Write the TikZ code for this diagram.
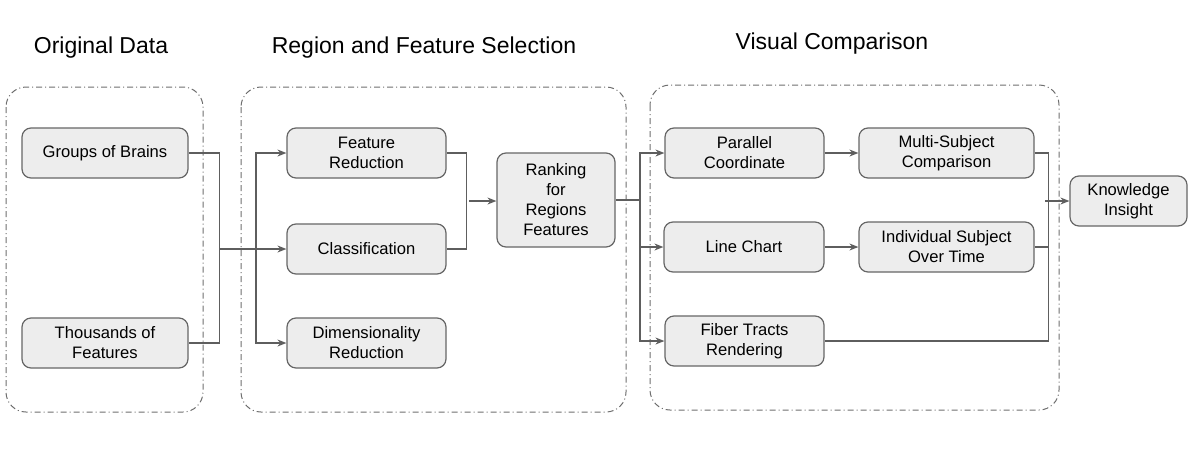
\documentclass[tikz,border=0pt]{standalone}
\usepackage{fontspec}
\setmainfont{Liberation Sans}
\usetikzlibrary{arrows.meta}
\definecolor{boxfill}{HTML}{EDEDED}
\definecolor{boxline}{HTML}{666666}
\definecolor{connc}{HTML}{5E5E5E}
\definecolor{grpc}{HTML}{6E6E6E}
\begin{document}
\begin{tikzpicture}[x=1pt,y=-1pt,
  box/.style={draw=boxline, fill=boxfill, rounded corners=9pt, line width=1.2pt,
    inner sep=0pt, align=center, font=\fontsize{16.6}{20}\selectfont},
  sz/.style 2 args={minimum width=#1pt, minimum height=#2pt},
  grp/.style={draw=grpc, line width=1pt, rounded corners=20pt,
    dash pattern=on 6pt off 3pt on 1pt off 3pt},
  ttl/.style={inner sep=0pt, font=\fontsize{23}{27}\selectfont},
  conn/.style={draw=connc, line width=1.2pt},
  arr/.style={conn, -{Stealth[length=9pt,width=7pt]}}]
\useasboundingbox (0,0) rectangle (1188,469);
% groups
\draw[grp] (6,87) rectangle (203,412);
\draw[grp] (241,87) rectangle (626,412);
\draw[grp] (650,85) rectangle (1059,410);
% titles
\node[ttl] (t1) at (101,47.5) {Original Data};
\node[ttl] (t2) at (424,47.5) {Region and Feature Selection};
\node[ttl] (t3) at (832,43.5) {Visual Comparison};
% boxes
\node[box, sz={166}{50}] (gob) at (105,153) {Groups of Brains};
\node[box, sz={166}{50}] (tof) at (105,343) {Thousands of\\Features};
\node[box, sz={159}{50}] (fr) at (366.5,153) {Feature\\Reduction};
\node[box, sz={159}{50}] (cls) at (366.5,249) {Classification};
\node[box, sz={159}{50}] (dr) at (366.5,343) {Dimensionality\\Reduction};
\node[box, sz={118}{94}] (rank) at (556,200) {Ranking\\for\\Regions\\Features};
\node[box, sz={159}{50}] (pc) at (744.5,153) {Parallel\\Coordinate};
\node[box, sz={160}{50}] (lc) at (744,247) {Line Chart};
\node[box, sz={159}{50}] (ft) at (744.5,341) {Fiber Tracts\\Rendering};
\node[box, sz={175}{50}] (ms) at (946.5,153) {Multi-Subject\\Comparison};
\node[box, sz={175}{50}] (ind) at (946.5,247) {Individual Subject\\Over Time};
\node[box, sz={117}{50}] (ki) at (1128.5,201) {Knowledge\\Insight};
% connectors: original data -> selection
\draw[conn] (gob.east) -- ++(31,0) |- (tof.east);
\coordinate (m1) at (219,249);
\coordinate (b1) at (256,249);
\draw[arr] (m1) -- (cls.west);
\draw[arr] (b1) |- (fr.west);
\draw[arr] (b1) |- (dr.west);
% selection -> ranking
\draw[conn] (fr.east) -- ++(20,0) |- (cls.east);
\coordinate (m2) at (469,201);
\draw[arr] (m2) -- (rank.west |- m2);
% ranking -> visual
\coordinate (b2) at (640,200);
\draw[conn, line width=1.8pt] (rank.east |- b2) -- (b2);
\draw[arr] (b2) |- (pc.west);
\draw[arr] (b2) |- (lc.west);
\draw[arr] (b2) |- (ft.west);
\draw[arr] (pc) -- (ms);
\draw[arr] (lc) -- (ind);
% visual -> knowledge
\draw[conn] (ms.east) -- ++(14,0) |- (ft.east);
\coordinate (r1) at (1048,247);
\draw[conn] (ind.east) -- (r1);
\coordinate (m3) at (1045,201);
\draw[arr] (m3) -- (ki.west |- m3);
\end{tikzpicture}
\end{document}
